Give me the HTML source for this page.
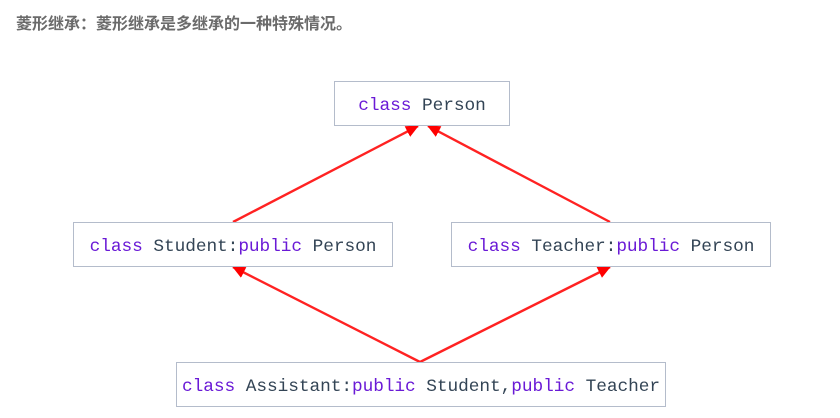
<!DOCTYPE html>
<html><head><meta charset="utf-8"><style>
body{margin:0;width:840px;height:418px;background:#fff;position:relative;overflow:hidden}
.t{position:absolute;left:16px;top:10px;font:bold 16px "Liberation Sans","Noto Sans CJK SC",sans-serif;color:#6b6b6b}
.b{position:absolute;box-sizing:border-box;border:1.5px solid #b4bccb;background:#fff;font:17.8px "Liberation Mono",monospace;color:#334455;display:flex;align-items:center;justify-content:center;white-space:pre;padding-top:4px;letter-spacing:-0.05px}
.k{color:#6a1ad6}
</style></head><body>
<div class="t">菱形继承：菱形继承是多继承的一种特殊情况。</div>
<svg width="840" height="418" style="position:absolute;left:0;top:0">
<defs><marker id="a" markerWidth="14" markerHeight="14" refX="12" refY="6" orient="auto" markerUnits="userSpaceOnUse"><path d="M0,0 L13,6 L0,12 z" fill="#f00"/></marker></defs>
<g stroke="#f22" stroke-width="2.4" fill="none" marker-end="url(#a)">
<line x1="233" y1="222" x2="418" y2="126"/>
<line x1="610" y1="222" x2="428" y2="126"/>
<line x1="420" y1="362" x2="233" y2="267"/>
<line x1="420" y1="362" x2="610" y2="267"/>
</g></svg>
<div class="b" style="left:334px;top:81px;width:176px;height:45px"><span class="k">class</span> Person</div>
<div class="b" style="left:73px;top:222px;width:320px;height:45px"><span class="k">class</span> Student:<span class="k">public</span> Person</div>
<div class="b" style="left:451px;top:222px;width:320px;height:45px"><span class="k">class</span> Teacher:<span class="k">public</span> Person</div>
<div class="b" style="left:176px;top:362px;width:490px;height:45px"><span class="k">class</span> Assistant:<span class="k">public</span> Student,<span class="k">public</span> Teacher</div>
</body></html>
